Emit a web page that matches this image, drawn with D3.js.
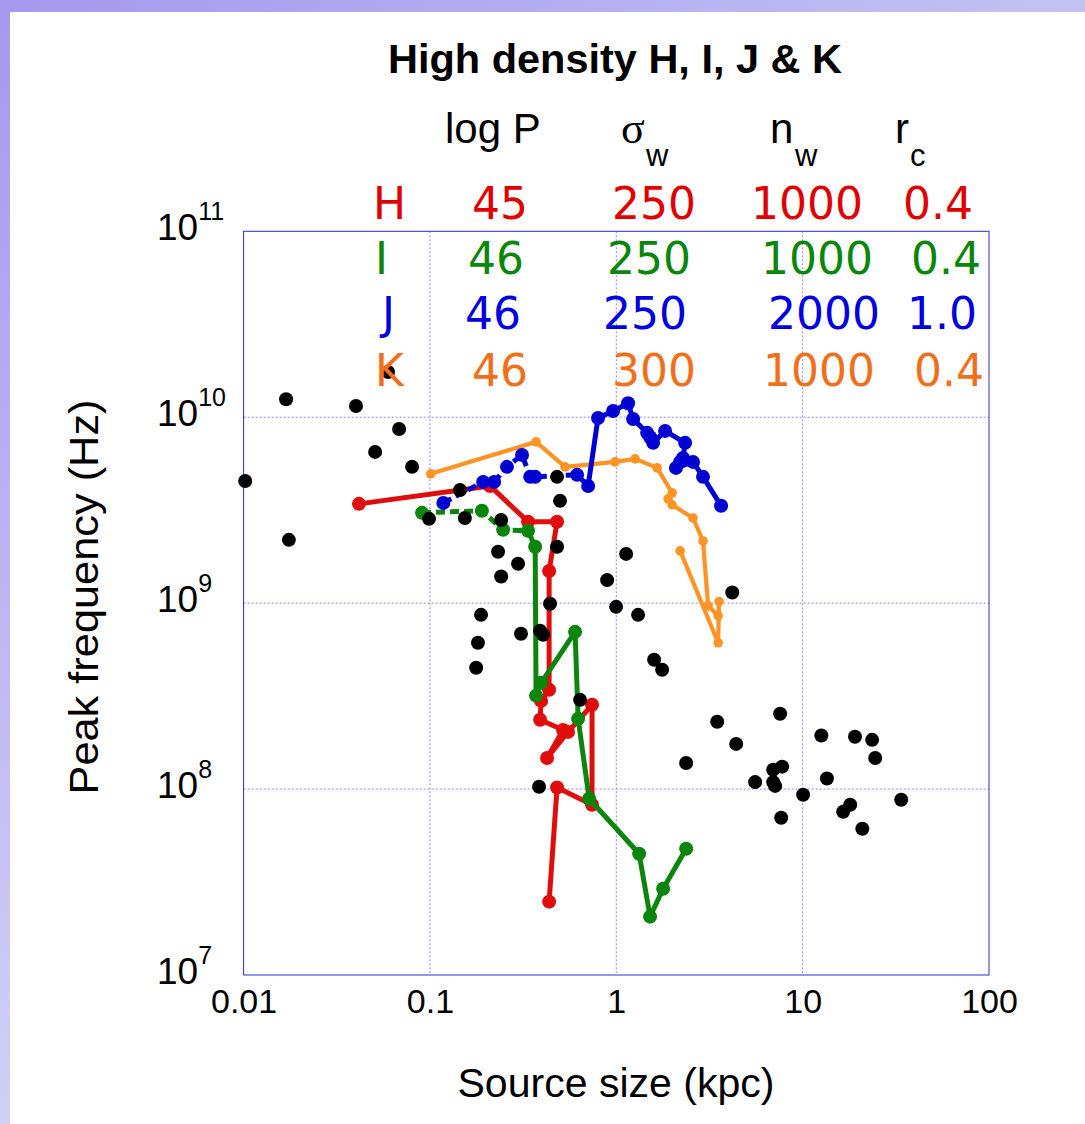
<!DOCTYPE html>
<html><head><meta charset="utf-8">
<script src="https://cdn.jsdelivr.net/npm/d3@7"></script>
<style>body{margin:0;background:#fff}svg{display:block}</style>
</head><body>
<svg id="chart" width="1085" height="1124"></svg>
<script>
// ---------------- data ----------------
const xTicks = [0.01, 0.1, 1, 10, 100];
const yTicks = [1e7, 1e8, 1e9, 1e10, 1e11];

// observed sources: [size kpc, peak frequency Hz]
const observed = [
  [0.0102,4.54e9],[0.0169,1.25e10],[0.0175,2.19e9],[0.0401,1.15e10],[0.0596,1.75e10],
  [0.0683,8.65e9],[0.0508,6.51e9],[0.0802,5.41e9],[0.0989,2.84e9],[0.145,4.06e9],
  [0.154,2.87e9],[0.241,2.80e9],[0.232,1.89e9],[0.297,1.63e9],[0.241,1.39e9],
  [0.481,4.78e9],[0.499,3.55e9],[0.481,2.01e9],[1.129,1.84e9],[0.893,1.33e9],
  [0.998,9.55e8],[1.309,8.65e8],[0.441,9.92e8],[0.188,8.65e8],[0.181,6.12e8],
  [0.177,4.49e8],[0.308,6.84e8],[0.390,7.10e8],[0.405,6.76e8],[1.596,4.96e8],
  [1.762,4.38e8],[0.639,3.02e8],[3.48,2.30e8],[4.40,1.75e8],[2.37,1.38e8],
  [0.385,1.03e8],[7.57,2.54e8],[12.6,1.94e8],[19.1,1.91e8],[23.6,1.84e8],
  [24.5,1.47e8],[6.95,1.27e8],[7.76,1.32e8],[5.56,1.09e8],[6.95,1.09e8],
  [7.12,1.04e8],[13.5,1.14e8],[10.06,9.32e7],[33.8,8.76e7],[18.0,8.23e7],
  [16.5,7.55e7],[7.67,7.01e7],[20.9,6.12e7],[4.19,1.14e9]
];

const seriesH = [
  [0.0416,3.42e9],[0.210,4.27e9],[0.336,2.74e9],[0.481,2.74e9],[0.436,1.49e9],
  [0.436,3.42e8],[0.395,2.98e8],[0.390,2.36e8],[0.518,2.08e8],[0.425,1.47e8],
  [0.551,2.03e8],[0.741,2.84e8],[0.741,8.23e7],[0.481,1.02e8],[0.436,2.48e7]
];
const seriesI = [
  [0.0907,3.06e9],[0.190,3.14e9],[0.247,2.48e9],[0.336,2.45e9],
  [0.367,2.01e9],[0.371,3.18e8],[0.395,3.73e8],[0.601,7.01e8],[0.624,2.39e8],
  [0.715,8.87e7],[1.326,4.49e7],[1.518,2.06e7],[1.783,2.91e7],[2.37,4.78e7]
];
const seriesJ = [
  [0.118,3.46e9],[0.193,4.49e9],[0.221,4.49e9],[0.259,5.41e9],[0.312,6.27e9],
  [0.345,4.78e9],[0.367,4.78e9],[0.616,4.90e9],
  [0.706,4.27e9],[0.798,9.91e9],[0.961,1.08e10],[1.157,1.19e10],[1.231,9.79e9],
  [1.464,8.24e9],[1.52,7.8e9],[1.576,7.28e9],[1.828,8.44e9],[2.34,7.28e9],
  [2.28,6.04e9],[2.20,5.75e9],[2.09,5.34e9],[2.58,5.75e9],[2.92,4.78e9],[3.65,3.34e9]
];
const seriesK = [
  [0.101,4.96e9],[0.371,7.37e9],[0.531,5.41e9],[0.985,5.75e9],[1.262,5.97e9],
  [1.656,5.34e9],[1.993,3.92e9],[1.897,3.64e9],[1.993,3.38e9],[2.58,2.87e9],
  [2.92,2.16e9],[3.11,9.67e8],[3.52,8.55e8],[3.56,1.02e9],[3.52,6.12e8],[2.20,1.91e9]
];

// legend table
const legendNames = ["H", "I", "J", "K"];
const legendLogP  = ["45", "46", "46", "46"];
const legendSigma = ["250", "250", "250", "300"];
const legendNw    = ["1000", "1000", "2000", "1000"];
const legendRc    = ["0.4", "0.4", "1.0", "0.4"];

const titleText = "High density H, I, J & K";
const xLabel = "Source size (kpc)";
const yLabel = "Peak frequency (Hz)";

// ---------------- layout ----------------
const svg = d3.select("#chart");
const L = 243.6, R = 989, T = 231.3, B = 975;
const x = d3.scaleLog().domain([0.01, 100]).range([L, R]);
const y = d3.scaleLog().domain([1e7, 1e11]).range([B, T]);

// background frame band
const defs = svg.append("defs");
const gTop = defs.append("linearGradient").attr("id","gTop").attr("x1",0).attr("x2",1).attr("y1",0).attr("y2",0);
gTop.append("stop").attr("offset",0).attr("stop-color","#a698ef");
gTop.append("stop").attr("offset",1).attr("stop-color","#c4c2f3");
const gLeft = defs.append("linearGradient").attr("id","gLeft").attr("x1",0).attr("x2",0).attr("y1",0).attr("y2",1);
gLeft.append("stop").attr("offset",0).attr("stop-color","#a698ef");
gLeft.append("stop").attr("offset",1).attr("stop-color","#d2d0f6");
svg.append("rect").attr("x",0).attr("y",0).attr("width",1085).attr("height",1124).attr("fill","#fff");
svg.append("rect").attr("x",0).attr("y",0).attr("width",1085).attr("height",12).attr("fill","url(#gTop)");
svg.append("rect").attr("x",0).attr("y",0).attr("width",10).attr("height",1124).attr("fill","url(#gLeft)");

// grid
const grid = svg.append("g");
grid.selectAll("line.gx").data(xTicks.slice(1, -1)).enter().append("line")
  .attr("x1", d => x(d)).attr("x2", d => x(d)).attr("y1", T).attr("y2", B)
  .attr("stroke", "#7a7af0").attr("stroke-width", 0.9).attr("stroke-dasharray", "2,2");
grid.selectAll("line.gy").data(yTicks.slice(1, -1)).enter().append("line")
  .attr("y1", d => y(d)).attr("y2", d => y(d)).attr("x1", L).attr("x2", R)
  .attr("stroke", "#7a7af0").attr("stroke-width", 0.9).attr("stroke-dasharray", "2,2");
svg.append("rect").attr("x", L).attr("y", T).attr("width", R - L).attr("height", B - T)
  .attr("fill", "none").attr("stroke", "#2a2ad6").attr("stroke-width", 1);

// axes
const xAxis = svg.append("g").attr("transform", `translate(0,${B})`)
  .call(d3.axisBottom(x).tickValues(xTicks).tickFormat(d3.format("~g")).tickSize(0));
xAxis.select(".domain").remove();
xAxis.selectAll("text").attr("y", 38).attr("dy", 0)
  .attr("font-family", "'Liberation Sans', Arial, sans-serif").attr("font-size", 34).attr("fill", "#000");

const yAxis = svg.append("g").attr("transform", `translate(${L},0)`)
  .call(d3.axisLeft(y).tickValues(yTicks).tickFormat("").tickSize(0));
yAxis.select(".domain").remove();
yAxis.selectAll(".tick text").each(function(d) {
  const t = d3.select(this);
  t.attr("x", 157 - L).attr("y", 8).attr("dy", 0).attr("text-anchor", "start")
   .attr("font-family", "'Liberation Sans', Arial, sans-serif").attr("font-size", 37).attr("fill", "#000");
  t.append("tspan").text("10");
  t.append("tspan").attr("dy", -20).attr("font-size", 25).text(Math.round(Math.log10(d)));
});

// series
const line = d3.line().x(d => x(d[0])).y(d => y(d[1]));
function drawSeries(data, color, lw, r, dashUntil) {
  const g = svg.append("g");
  if (dashUntil > 0) {
    g.append("path").attr("d", line(data.slice(0, dashUntil))).attr("fill", "none")
      .attr("stroke", color).attr("stroke-width", lw).attr("stroke-dasharray", "9,5");
    g.append("path").attr("d", line(data.slice(dashUntil - 1))).attr("fill", "none")
      .attr("stroke", color).attr("stroke-width", lw).attr("stroke-linejoin", "round");
  } else {
    g.append("path").attr("d", line(data)).attr("fill", "none")
      .attr("stroke", color).attr("stroke-width", lw).attr("stroke-linejoin", "round");
  }
  g.selectAll("circle").data(data).enter().append("circle")
    .attr("cx", d => x(d[0])).attr("cy", d => y(d[1])).attr("r", r).attr("fill", color);
}
drawSeries(seriesK, "#ff9424", 4.2, 4.8, 0);
drawSeries(seriesH, "#e00d0d", 5, 7, 0);
drawSeries(seriesI, "#0b850b", 5, 7, 4);
drawSeries(seriesJ, "#0000d2", 5, 7, 8);

// observed points
svg.append("g").selectAll("circle").data(observed).enter().append("circle")
  .attr("cx", d => x(d[0])).attr("cy", d => y(d[1])).attr("r", 7).attr("fill", "#000");

// legend
const sans = "'Liberation Sans', Arial, sans-serif";
const dv = "'DejaVu Sans', sans-serif";
const head = svg.append("g").attr("fill", "#000").attr("font-family", sans);
head.append("text").attr("x", 445).attr("y", 143).attr("font-size", 42).text("log P");
head.append("text").attr("x", 621).attr("y", 143).attr("font-size", 44).attr("font-family", "'Liberation Serif', serif").text("σ");
head.append("text").attr("x", 646).attr("y", 166).attr("font-size", 31).text("w");
head.append("text").attr("x", 770).attr("y", 143).attr("font-size", 42).text("n");
head.append("text").attr("x", 795).attr("y", 166).attr("font-size", 31).text("w");
head.append("text").attr("x", 895).attr("y", 143).attr("font-size", 42).text("r");
head.append("text").attr("x", 910).attr("y", 166).attr("font-size", 31).text("c");

const rowColors = ["#e00000", "#0a870a", "#0000e0", "#f26f1a"];
const rowY = [219, 274, 329, 386];
const colX = [
  [373, 472, 612, 751, 903],
  [375, 468, 607, 761, 911],
  [382, 465, 603, 768, 907],
  [375, 472, 612, 763, 914]
];
legendNames.forEach((nm, i) => {
  const vals = [nm, legendLogP[i], legendSigma[i], legendNw[i], legendRc[i]];
  vals.forEach((v, j) => {
    svg.append("text").attr("x", colX[i][j]).attr("y", rowY[i])
      .attr("font-family", dv).attr("font-size", 44).attr("fill", rowColors[i]).text(v);
  });
});

// titles
svg.append("text").attr("x", 615).attr("y", 73).attr("text-anchor", "middle")
  .attr("font-family", sans).attr("font-weight", "bold").attr("font-size", 40)
  .attr("textLength", 454).attr("lengthAdjust", "spacingAndGlyphs").text(titleText);
svg.append("text").attr("x", 616).attr("y", 1097).attr("text-anchor", "middle")
  .attr("font-family", sans).attr("font-size", 40)
  .attr("textLength", 317).attr("lengthAdjust", "spacingAndGlyphs").text(xLabel);
svg.append("text").attr("transform", "translate(98,597) rotate(-90)").attr("text-anchor", "middle")
  .attr("font-family", sans).attr("font-size", 40)
  .attr("textLength", 395).attr("lengthAdjust", "spacingAndGlyphs").text(yLabel);
</script>
</body></html>
